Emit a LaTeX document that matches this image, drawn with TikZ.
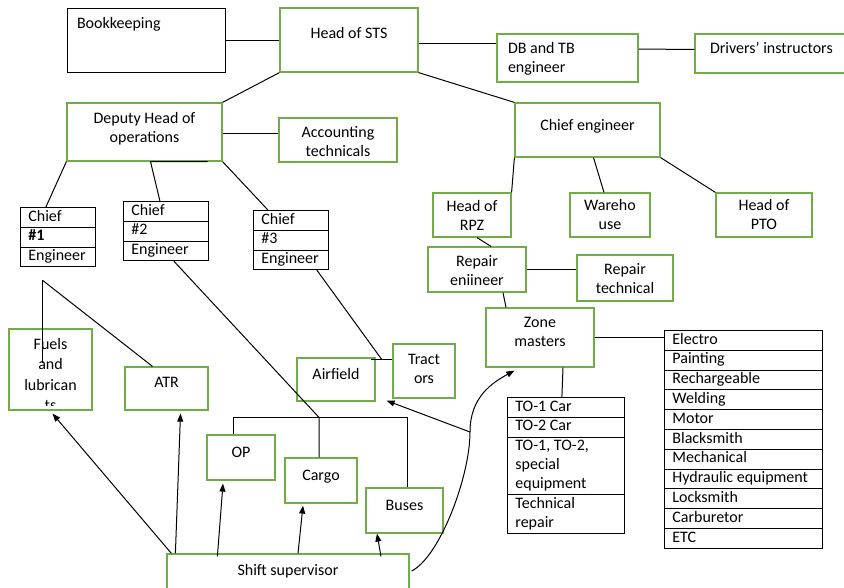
\documentclass[tikz,border=0pt]{standalone}
\usepackage{fontspec}
\setmainfont{Carlito}
\usepackage{tikz}
\definecolor{boxgreen}{RGB}{112,173,71}
\usetikzlibrary{shapes.multipart, arrows.meta, positioning, calc}
\newcommand{\diagfont}{\fontsize{16}{19}\selectfont}

\begin{document}
\begin{tikzpicture}[x=1pt, y=-1pt, font=\diagfont,
    gbox/.style={draw=boxgreen, line width=1.2pt, align=center, inner sep=0pt, text height=12pt, text depth=2pt},
    kbox/.style={draw=black, line width=0.9pt, inner sep=0pt, text height=12pt, text depth=2pt},
    lst/.style={rectangle split, rectangle split parts=3, draw=black, line width=0.8pt, align=flush left, inner xsep=8pt, inner ysep=0pt, anchor=north west},
    conn/.style={draw=black, line width=1pt},
    arr/.style={conn, -{Triangle[length=8pt, width=6pt]}}]

    \fill[white] (0,0) rectangle (844,587);
    \useasboundingbox (0,0) rectangle (844,587);

    % top level
    \node[kbox, minimum width=158pt, minimum height=64pt, text width=138pt, align=flush left, text depth=36pt] (book) at (146,40) {Bookkeeping};
    \node[gbox, minimum width=138pt, minimum height=64pt, text depth=16pt] (sts) at (349,40) {Head of STS};
    \node[gbox, minimum width=141pt, minimum height=48pt, text width=119pt, align=flush left, text depth=21pt] (dbtb) at (567.5,58) {DB and TB\\engineer};
    \node[gbox, minimum width=155pt, minimum height=39pt, text width=125pt, align=flush left, text depth=13pt] (drivers) at (772.5,53.5) {Drivers' instructors};

    % second level
    \node[gbox, minimum width=155pt, minimum height=58pt, text height=31pt, text depth=11pt] (dep) at (144.5,132) {Deputy Head of\\operations};
    \node[gbox, minimum width=118pt, minimum height=44pt, text height=35pt] (acct) at (338,140) {Accounting\\technicals};
    \node[gbox, minimum width=145pt, minimum height=54pt, text depth=12pt] (chief) at (587.5,130) {Chief engineer};

    % chief engineer branch
    \node[gbox, minimum width=78pt, minimum height=44pt, text height=33pt] (rpz) at (472,215) {Head of\\RPZ};
    \node[gbox, minimum width=80pt, minimum height=44pt, text height=31pt] (ware) at (610,215) {Wareho\\use};
    \node[gbox, minimum width=96pt, minimum height=44pt, text height=31pt] (pto) at (764,215) {Head of\\PTO};
    \node[gbox, minimum width=98pt, minimum height=45pt, text height=33pt] (reng) at (477,269.5) {Repair\\eniineer};
    \node[gbox, minimum width=96pt, minimum height=46pt, text height=33pt] (rtech) at (625,278) {Repair\\technical};
    \node[gbox, minimum width=108pt, minimum height=59pt, text height=31pt, text depth=13pt] (zone) at (540,337.5) {Zone\\masters};
    \node[lst, rectangle split parts=11, text width=142pt] (jobs) at (664,330)
        {\strut Electro\nodepart{two}\strut Painting\nodepart{three}\strut Rechargeable\nodepart{four}\strut Welding\nodepart{five}\strut Motor\nodepart{six}\strut Blacksmith\nodepart{seven}\strut Mechanical\nodepart{eight}\strut Hydraulic equipment\nodepart{nine}\strut Locksmith\nodepart{ten}\strut Carburetor\nodepart{eleven}\strut ETC};
    \node[lst, rectangle split parts=4, text width=101pt] (tolist) at (507,397)
        {\strut TO-1 Car\nodepart{two}\strut TO-2 Car\nodepart{three}\strut TO-1, TO-2,\\special\\equipment\strut\nodepart{four}\strut Technical\\repair\strut};

    % chief engineers
    \node[lst, text width=59pt] (c1) at (20,207) {\strut Chief\nodepart{two}\strut\textbf{\#1}\nodepart{three}\strut Engineer};
    \node[lst, text width=69pt] (c2) at (123,201) {\strut Chief\nodepart{two}\strut\#2\nodepart{three}\strut Engineer};
    \node[lst, text width=59pt] (c3) at (253,210) {\strut Chief\nodepart{two}\strut\#3\nodepart{three}\strut Engineer};

    % sections
    \begin{scope}
        \clip (9,329) rectangle (92,405);
        \node[font=\fontsize{16}{20.5}\selectfont, align=center, inner sep=0pt, text height=73.5pt, text depth=2pt] (fuelstxt) at (50.5,375) {Fuels\\and\\lubrican\\ts};
    \end{scope}
    \node[gbox, minimum width=83pt, minimum height=81pt] (fuels) at (50.5,369.5) {};
    \node[gbox, minimum width=83pt, minimum height=43pt, text depth=15pt] (atr) at (166.5,388.5) {ATR};
    \node[gbox, minimum width=78pt, minimum height=43pt, text depth=13pt] (airf) at (336,379.5) {Airfield};
    \node[gbox, minimum width=62pt, minimum height=54pt, text height=31pt, text depth=6pt] (tract) at (424,371) {Tract\\ors};
    \node[gbox, minimum width=68pt, minimum height=45pt, text depth=13pt] (op) at (241,457.5) {OP};
    \node[gbox, minimum width=72pt, minimum height=45pt, text depth=13pt] (cargo) at (321,480.5) {Cargo};
    \node[gbox, minimum width=77pt, minimum height=45pt, text depth=13pt] (buses) at (404.5,510.5) {Buses};
    \node[gbox, minimum width=242pt, minimum height=46pt, text depth=16pt] (shift) at (288,577) {Shift supervisor};

    % helper points
    \coordinate (c1b) at ($(c1.south)+(-15.5,13)$);
    \coordinate (jn) at ($(cargo.north)+(-2,-40)$);
    \coordinate (c3b) at ($(tract.west)+(-11,-12)$);
    \coordinate (bend) at (470,432);

    % links
    \draw[conn] (book.east) -- (sts.west);
    \draw[conn] ($(sts.east)+(0,3)$) -- ($(sts.east -| dbtb.west)+(0,3)$);
    \draw[conn] ($(dbtb.east)+(0,-9)$) -- ($(drivers.west)+(0,-4)$);
    \draw[conn] (sts.south west) -- (dep.north east);
    \draw[conn] (sts.south east) -- (chief.north west);
    \draw[conn] ($(dep.east)+(0,1)$) -- ($(dep.east -| acct.west)+(0,1)$);
    \draw[conn] (dep.south west) -- ([xshift=-12pt]c1.north);
    \draw[conn] ([xshift=-15pt]dep.south east) -- ([xshift=6pt]dep.south) -- ([xshift=-6pt]c2.north);
    \draw[conn] (dep.south east) -- ([xshift=-23pt]c3.north);
    \draw[conn] (chief.south west) -- (rpz.north east);
    \draw[conn] ([xshift=6pt]chief.south) -- ([xshift=-6pt]ware.north);
    \draw[conn] (chief.south east) -- (pto.north west);
    \draw[conn] ([xshift=5pt]rpz.south) -- ([xshift=14pt]reng.north);
    \draw[conn] (reng.east) -- (reng.east -| rtech.west);
    \draw[conn] ([xshift=26pt]reng.south) -- ([xshift=-34pt]zone.north);
    \draw[conn] (zone.east) -- (zone.east -| jobs.west);
    \draw[conn] ([xshift=23pt]zone.south) -- ([xshift=-4pt]tolist.north);

    \draw[conn] (c1b) -- ($(c1b |- fuels.center)+(0,-7)$);
    \draw[conn] (c1b) -- ([xshift=-14pt]atr.north);
    \draw[conn] ([xshift=8pt]c2.south) -- (jn) -- (jn |- cargo.north);
    \draw[conn] ([xshift=-8pt]op.north) |- (jn) -| ([xshift=3pt]buses.north);
    \draw[conn] ([xshift=26pt]c3.south) -- (c3b);
    \draw[conn] ($(c3b -| airf.east)+(-5,0)$) -- (c3b -| tract.west);

    % shift supervisor arrows
    \draw[arr] ($(shift.north west)+(5,0)$) -- ($(fuels.south)+(2,3)$);
    \draw[arr] ($(shift.north west)+(9,0)$) -- ($(atr.south)+(14,3)$);
    \draw[arr] ($(shift.north west)+(51,3)$) -- ($(op.south)+(-18,3)$);
    \draw[arr] ($(shift.north)+(10,0)$) -- ($(cargo.south)+(-18,2)$);
    \draw[arr] ($(shift.north)+(93,3)$) -- ($(buses.south)+(-27.5,0)$);
    \draw[arr] ($(shift.east)+(2,-6)$) .. controls +(28,-14) and +(0,45) .. (bend)
        .. controls +(0,-35) and +(-22,12) .. ($(zone.south west)+(29,3)$);
    \draw[arr] (bend) -- ($(airf.south east)+(11,-1)$);
\end{tikzpicture}
\end{document}
